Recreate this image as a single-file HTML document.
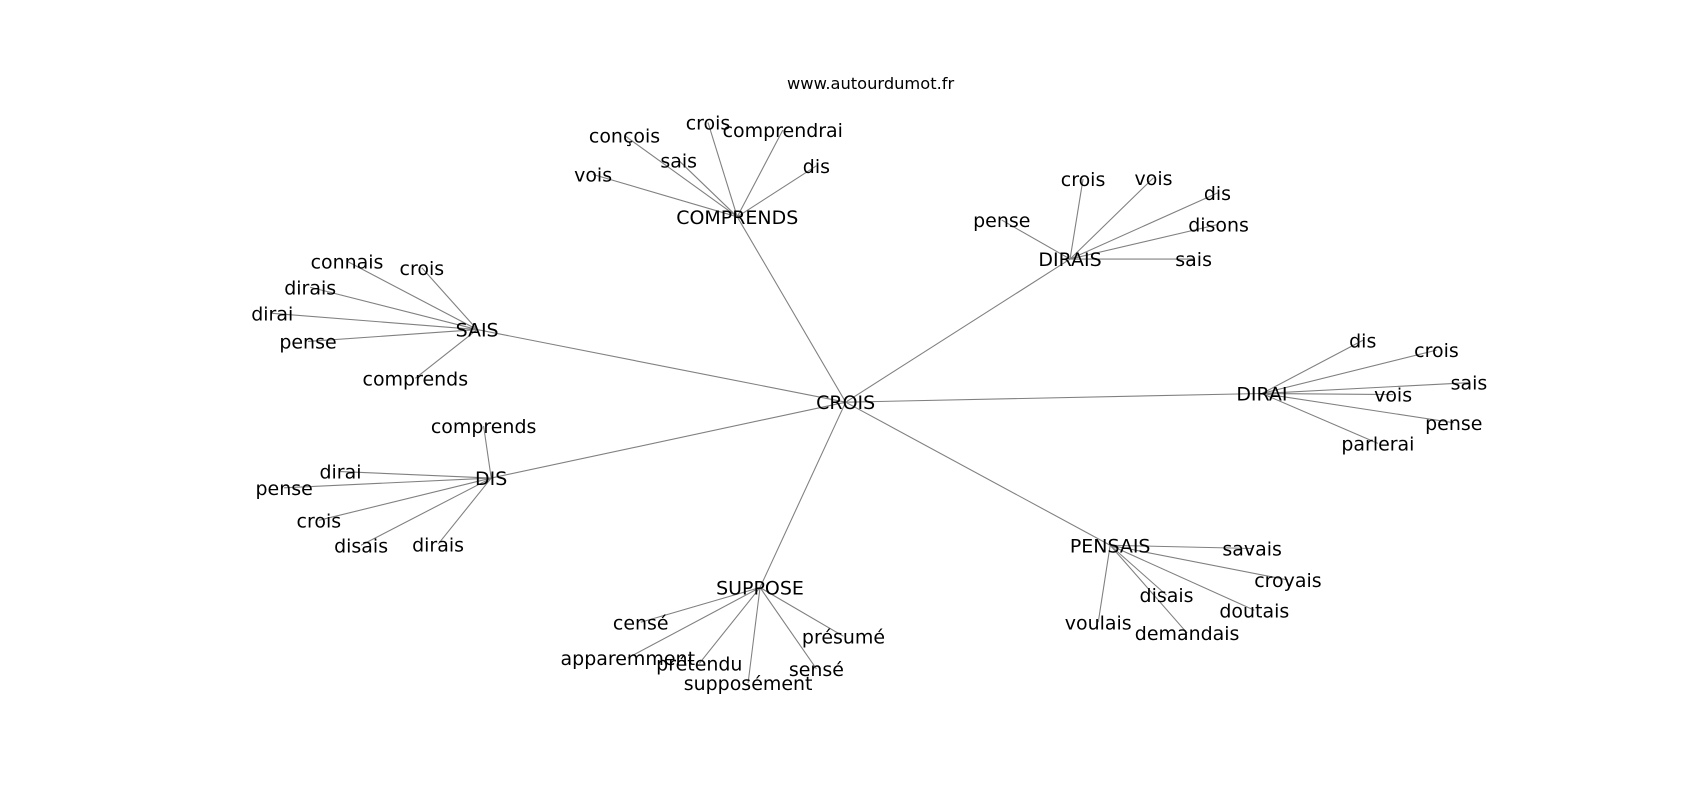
<!DOCTYPE html>
<html><head><meta charset="utf-8"><style>
html,body{margin:0;padding:0;background:#fff;width:1700px;height:800px;overflow:hidden}
svg text{font-family:"DejaVu Sans","Liberation Sans",sans-serif;font-size:17.5px;fill:#000;text-anchor:middle;dominant-baseline:central}
svg line{stroke:#808080;stroke-width:1}
</style></head><body>
<svg width="1700" height="800" viewBox="0 0 1568 738" xmlns="http://www.w3.org/2000/svg">
<g>
<line x1="780" y1="371" x2="680" y2="200"/><line x1="780" y1="371" x2="440" y2="304"/>
<line x1="780" y1="371" x2="453" y2="441"/><line x1="780" y1="371" x2="701" y2="542"/>
<line x1="780" y1="371" x2="1024" y2="503"/><line x1="780" y1="371" x2="1164" y2="363"/>
<line x1="780" y1="371" x2="987" y2="239"/>
<line x1="680" y1="200" x2="547" y2="161"/><line x1="680" y1="200" x2="576" y2="125"/><line x1="680" y1="200" x2="626" y2="148"/><line x1="680" y1="200" x2="653" y2="113"/><line x1="680" y1="200" x2="722" y2="120"/><line x1="680" y1="200" x2="753" y2="153"/>
<line x1="987" y1="239" x2="924" y2="203"/><line x1="987" y1="239" x2="999" y2="165"/><line x1="987" y1="239" x2="1064" y2="164"/><line x1="987" y1="239" x2="1123" y2="178"/><line x1="987" y1="239" x2="1124" y2="207"/><line x1="987" y1="239" x2="1101" y2="239"/>
<line x1="440" y1="304" x2="320" y2="241"/><line x1="440" y1="304" x2="389" y2="247"/><line x1="440" y1="304" x2="286" y2="265"/><line x1="440" y1="304" x2="251" y2="289"/><line x1="440" y1="304" x2="284" y2="315"/><line x1="440" y1="304" x2="383" y2="349"/>
<line x1="1164" y1="363" x2="1257" y2="314"/><line x1="1164" y1="363" x2="1325" y2="323"/><line x1="1164" y1="363" x2="1355" y2="353"/><line x1="1164" y1="363" x2="1285" y2="364"/><line x1="1164" y1="363" x2="1341" y2="390"/><line x1="1164" y1="363" x2="1271" y2="409"/>
<line x1="453" y1="441" x2="446" y2="393"/><line x1="453" y1="441" x2="314" y2="435"/><line x1="453" y1="441" x2="262" y2="450"/><line x1="453" y1="441" x2="294" y2="480"/><line x1="453" y1="441" x2="333" y2="503"/><line x1="453" y1="441" x2="404" y2="502"/>
<line x1="701" y1="542" x2="591" y2="574"/><line x1="701" y1="542" x2="579" y2="607"/><line x1="701" y1="542" x2="645" y2="612"/><line x1="701" y1="542" x2="690" y2="630"/><line x1="701" y1="542" x2="753" y2="617"/><line x1="701" y1="542" x2="778" y2="587"/>
<line x1="1024" y1="503" x2="1155" y2="506"/><line x1="1024" y1="503" x2="1188" y2="535"/><line x1="1024" y1="503" x2="1076" y2="549"/><line x1="1024" y1="503" x2="1157" y2="563"/><line x1="1024" y1="503" x2="1013" y2="574"/><line x1="1024" y1="503" x2="1095" y2="584"/>
</g>
<g transform="translate(0,1)">
<text x="803" y="76" style="font-size:15px">www.autourdumot.fr</text>
<text x="780" y="371">CROIS</text><text x="680" y="200">COMPRENDS</text><text x="440" y="304">SAIS</text>
<text x="453" y="441">DIS</text><text x="701" y="542">SUPPOSE</text><text x="1024" y="503">PENSAIS</text>
<text x="1164" y="363">DIRAI</text><text x="987" y="239">DIRAIS</text>
<text x="547" y="161">vois</text><text x="576" y="125">conçois</text><text x="626" y="148">sais</text><text x="653" y="113">crois</text><text x="722" y="120">comprendrai</text><text x="753" y="153">dis</text>
<text x="924" y="203">pense</text><text x="999" y="165">crois</text><text x="1064" y="164">vois</text><text x="1123" y="178">dis</text><text x="1124" y="207">disons</text><text x="1101" y="239">sais</text>
<text x="320" y="241">connais</text><text x="389" y="247">crois</text><text x="286" y="265">dirais</text><text x="251" y="289">dirai</text><text x="284" y="315">pense</text><text x="383" y="349">comprends</text>
<text x="1257" y="314">dis</text><text x="1325" y="323">crois</text><text x="1355" y="353">sais</text><text x="1285" y="364">vois</text><text x="1341" y="390">pense</text><text x="1271" y="409">parlerai</text>
<text x="446" y="393">comprends</text><text x="314" y="435">dirai</text><text x="262" y="450">pense</text><text x="294" y="480">crois</text><text x="333" y="503">disais</text><text x="404" y="502">dirais</text>
<text x="591" y="574">censé</text><text x="579" y="607">apparemment</text><text x="645" y="612">prétendu</text><text x="690" y="630">supposément</text><text x="753" y="617">sensé</text><text x="778" y="587">présumé</text>
<text x="1155" y="506">savais</text><text x="1188" y="535">croyais</text><text x="1076" y="549">disais</text><text x="1157" y="563">doutais</text><text x="1013" y="574">voulais</text><text x="1095" y="584">demandais</text>
</g>
</svg>
</body></html>
